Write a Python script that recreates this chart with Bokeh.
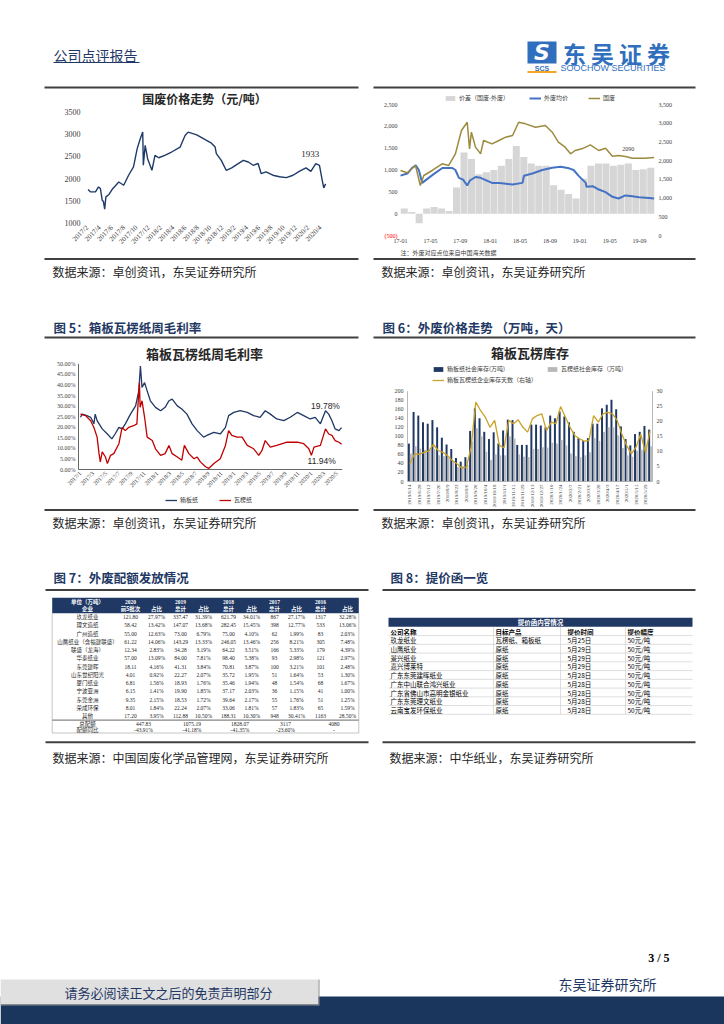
import math
from bokeh.plotting import figure
from bokeh.models import Range1d, Legend, LegendItem
from bokeh.embed import file_html
from bokeh.resources import INLINE
from bokeh.core.properties import value

CJK = "Noto Sans CJK SC"
SERIF = "Liberation Serif"
SANS = "Liberation Sans"
NAVY = "#1f3864"
DARK = "#262626"
AXC = "#404040"

# ---------------- Chart 1: 国废价格走势（元/吨）  (month index, 0 = 2017/1) ----------------
guofei_month = [1.1, 1.5, 2.3, 2.8, 3.1, 3.4, 3.6, 3.8, 4.0, 4.5, 5.0, 6.1, 6.9, 7.7, 8.5,
                9.1, 9.6, 10.0, 10.1, 10.4, 10.8, 11.5, 12.0, 12.6, 13.6, 14.7, 16.1, 16.9,
                17.4, 18.8, 20.4, 21.2, 21.8, 22.0, 22.8, 23.6, 24.5, 25.3, 26.4, 27.2, 28.0,
                28.8, 29.3, 30.1, 31.2, 32.3, 33.4, 34.5, 35.5, 36.6, 37.4, 38.2, 38.8, 39.2,
                39.5, 39.8]
guofei_price = [1752, 1698, 1698, 1811, 1775, 1511, 1480, 1309, 1586, 1640, 1752, 1923, 1849,
                2075, 2262, 2676, 2901, 3050, 2300, 2750, 2450, 2187, 2525, 2470, 2525, 2600,
                2712, 2975, 3050, 2987, 2862, 2800, 2712, 2563, 2412, 2187, 2240, 2315, 2412,
                2375, 2300, 2340, 2113, 2150, 2075, 2040, 2020, 2075, 2164, 2240, 2164, 2338,
                2300, 2000, 1790, 1880]
guofei_ticks = [1, 3, 5, 7, 9, 11, 13, 15, 17, 19, 21, 23, 25, 27, 29, 31, 33, 35, 37, 39]
guofei_tick_labels = ["2017/2", "2017/4", "2017/6", "2017/8", "2017/10", "2017/12",
                      "2018/2", "2018/4", "2018/6", "2018/8", "2018/10", "2018/12",
                      "2019/2", "2019/4", "2019/6", "2019/8", "2019/10", "2019/12",
                      "2020/2", "2020/4"]
guofei_y_ticks = [1000, 1500, 2000, 2500, 3000, 3500]
guofei_y_labels = ["1000", "1500", "2000", "2500", "3000", "3500"]

# ---------------- Chart 2: 价差 / 外废均价 / 国废 (month index, 0 = 2017-01) ----------------
spread_month = list(range(34))
spread_value = [120, 40, -220, 120, 150, 120, 60, 600, 1400, 1250, 900, 950, 1000, 1100,
                1250, 1550, 1300, 1150, 1100, 1100, 650, 550, 450, 350, 800, 1100, 1150,
                1150, 1100, 1120, 1150, 1000, 1020, 1050]
waifei_month = [0, 0.92, 1.53, 2.04, 2.45, 2.91, 3.47, 4.39, 5.61, 6.94, 7.35, 7.82, 8.37,
                8.93, 9.29, 10.04, 10.72, 12.25, 13.27, 15.0, 16.33, 16.53, 17.66, 18.98,
                20.31, 21.43, 22.56, 23.17, 23.88, 24.8, 24.9, 25.72, 26.54, 27.45, 28.37,
                29.19, 30.11, 31.03, 31.94, 33.27, 33.95]
waifei_price = [872, 918, 1045, 1107, 1000, 705, 780, 900, 1046, 1046, 1000, 818, 780, 645,
                760, 840, 820, 705, 700, 670, 705, 869, 920, 1000, 1053, 1076, 1038, 1000,
                860, 705, 614, 629, 553, 492, 386, 348, 417, 400, 377, 360, 348]
guofei2_month = [0, 0.9, 2.01, 2.65, 3.12, 4.24, 5.58, 6.43, 7.35, 8.16, 8.93, 9.24, 9.49,
                 10.04, 10.72, 11.12, 12.25, 13.17, 14.08, 15.0, 15.82, 16.74, 18.06, 19.39,
                 20.31, 21.13, 22.04, 22.76, 23.37, 24.29, 25.41, 26.54, 27.45, 28.37, 29.19,
                 30.11, 31.03, 32.76, 33.95]
guofei2_price = [1737, 1675, 1870, 1336, 1603, 1737, 1915, 1870, 2182, 2805, 3027, 2315, 2760,
                 2360, 2182, 2538, 2449, 2538, 2627, 2672, 3027, 2983, 2894, 2939, 2760, 2493,
                 2360, 2182, 2271, 2315, 2423, 2271, 2333, 2119, 2137, 2110, 2066, 2066, 2084]
chart2_ticks = [0, 4, 8, 12, 16, 20, 24, 28, 32]
chart2_tick_labels = ["17-01", "17-05", "17-09", "18-01", "18-05", "18-09", "19-01", "19-05", "19-09"]
chart2_left_ticks = [-500, 0, 500, 1000, 1500, 2000, 2500]
chart2_left_labels = ["(500)", "0", "500", "1,000", "1,500", "2,000", "2,500"]
chart2_right_ticks = [0, 500, 1000, 1500, 2000, 2500, 3000, 3500]
chart2_right_labels = ["0", "500", "1,000", "1,500", "2,000", "2,500", "3,000", "3,500"]

# ---------------- Chart 3: 箱板瓦楞纸周毛利率 (month index, 0 = 2017/1) ----------------
xiangban_month = [0, 0.3, 1.0, 1.6, 2.1, 2.3, 2.6, 3.4, 4.2, 4.9, 5.4, 6.0, 6.5, 7.0, 7.8, 8.6,
                  9.1, 9.35, 9.6, 10.0, 10.4, 10.9, 11.7, 12.5, 13.2, 13.8, 14.3, 15.1, 15.8,
                  16.6, 17.4, 18.2, 19.2, 19.7, 20.8, 21.8, 22.6, 23.1, 23.9, 24.9, 26.0, 27.0,
                  28.0, 28.8, 29.6, 30.6, 31.7, 32.7, 33.8, 34.8, 35.8, 36.6, 37.4, 38.2, 38.7,
                  39.2, 39.7, 40.3, 40.7]
xiangban_margin = [24.7, 26.2, 25.5, 24.7, 21.6, 26.2, 23.1, 19.2, 16.8, 14.5, 16.8, 19.9, 19.2,
                   21.6, 26.2, 30.1, 37.2, 48.9, 38.8, 41.1, 37.2, 32.5, 29.4, 27.8, 29.4, 32.5,
                   33.3, 30.1, 28.6, 26.2, 21.6, 18.4, 15.3, 16.1, 17.6, 16.8, 19.9, 25.5, 27.0,
                   27.8, 27.0, 25.5, 24.7, 27.8, 26.2, 23.9, 23.1, 24.7, 27.0, 25.5, 23.9, 24.7,
                   21.6, 27.8, 26.2, 23.1, 19.2, 18.4, 19.78]
waleng_month = [0, 0.8, 1.6, 2.1, 2.6, 2.9, 3.1, 3.4, 3.9, 4.2, 4.7, 5.2, 6.0, 6.5, 7.0, 7.5,
                8.3, 8.8, 9.1, 9.2, 9.3, 9.6, 10.0, 10.4, 11.2, 11.7, 12.5, 13.2, 13.8, 14.3,
                15.1, 15.8, 16.2, 16.9, 17.7, 18.2, 18.7, 19.5, 20.0, 20.8, 21.8, 22.6, 23.1,
                23.6, 24.4, 25.2, 26.0, 27.0, 27.8, 28.3, 28.8, 29.6, 30.6, 32.2, 33.8, 34.8,
                35.6, 36.0, 36.4, 37.4, 38.2, 38.7, 39.2, 39.7, 40.3, 40.7]
waleng_margin = [26.2, 25.5, 23.1, 19.9, 15.3, 7.5, 3.6, 8.3, 5.9, 2.8, 6.7, 7.5, 12.2, 19.9,
                 18.4, 19.9, 20.7, 21.6, 37.2, 41.1, 29.4, 32.5, 24.7, 15.3, 13.7, 9.8, 6.7,
                 7.5, 11.4, 7.5, 5.9, 4.4, 11.4, 7.5, 5.1, 5.9, 3.6, 1.3, 0.5, 2.8, 5.1, 11.4,
                 18.4, 16.1, 15.3, 15.3, 11.4, 9.8, 6.7, 9.0, 13.7, 10.6, 11.4, 12.9, 12.9,
                 12.2, 9.8, 6.7, 10.6, 11.4, 19.2, 16.8, 16.1, 13.7, 12.9, 11.94]
margin_x_ticks = [0, 2, 4, 6, 8, 10, 12, 14, 16, 18, 20, 22, 24, 26, 28, 30, 32, 34, 36, 38, 40]
margin_x_labels = ["2017/1", "2017/3", "2017/5", "2017/7", "2017/9", "2017/11", "2018/1",
                   "2018/3", "2018/5", "2018/7", "2018/9", "2018/11", "2019/1", "2019/3",
                   "2019/5", "2019/7", "2019/9", "2019/11", "2020/1", "2020/3", "2020/5"]
margin_y_ticks = [0, 5, 10, 15, 20, 25, 30, 35, 40, 45, 50]
margin_y_labels = ["0.00%", "5.00%", "10.00%", "15.00%", "20.00%", "25.00%", "30.00%",
                   "35.00%", "40.00%", "45.00%", "50.00%"]

# ---------------- Chart 4: 箱板瓦楞库存 ----------------
inv_dates = ["2019/6/14", "2019/6/21", "2019/6/28", "2019/7/5", "2019/7/12", "2019/7/19",
             "2019/7/26", "2019/8/2", "2019/8/9", "2019/8/16", "2019/8/23", "2019/8/30",
             "2019/9/6", "2019/9/13", "2019/9/20", "2019/9/27", "2019/10/4", "2019/10/11",
             "2019/10/18", "2019/10/25", "2019/11/1", "2019/11/8", "2019/11/15", "2019/11/22",
             "2019/11/29", "2019/12/6", "2019/12/13", "2019/12/20", "2019/12/27", "2020/1/3",
             "2020/1/10", "2020/1/17", "2020/1/24", "2020/1/31", "2020/2/7", "2020/2/14",
             "2020/2/21", "2020/2/28", "2020/3/6", "2020/3/13", "2020/3/20", "2020/3/27",
             "2020/4/3", "2020/4/10", "2020/4/17", "2020/4/24", "2020/5/1", "2020/5/8",
             "2020/5/15", "2020/5/22", "2020/5/29", "2020/6/5"]
xiangban_inv = [84, 154, 146, 131, 128, 136, 120, 97, 82, 72, 52, 44, 54, 112, 162, 140, 110,
                94, 109, 84, 113, 137, 136, 81, 81, 81, 126, 126, 124, 120, 146, 140, 155, 144,
                131, 110, 96, 90, 96, 128, 128, 162, 170, 181, 160, 122, 94, 80, 105, 110, 123,
                115]
waleng_inv = [62, 78, 73, 70, 70, 72, 58, 56, 52, 45, 32, 34, 38, 88, 118, 100, 66, 48, 60,
              58, 58, 100, 95, 60, 55, 54, 72, 72, 76, 75, 86, 84, 92, 80, 62, 56, 54, 58, 65,
              96, 90, 110, 120, 120, 102, 74, 58, 55, 68, 70, 80, 78]
inv_days = [5.9, 9.2, 9.0, 9.7, 10.1, 12.3, 10.3, 9.7, 8.6, 7.0, 5.9, 4.5, 4.8, 11.4, 26.4,
            23.6, 21.4, 18.0, 20.3, 12.0, 11.2, 20.3, 19.2, 20.5, 18.0, 16.4, 20.8, 21.9, 22.5,
            16.9, 19.7, 19.2, 24.9, 21.4, 18.0, 15.3, 14.2, 13.4, 13.6, 21.9, 19.7, 22.5, 23.0,
            22.5, 20.3, 15.8, 12.0, 9.2, 11.4, 15.8, 9.7, 16.9]
inv_left_ticks = [0, 20, 40, 60, 80, 100, 120, 140, 160, 180, 200]
inv_left_labels = ["0", "20", "40", "60", "80", "100", "120", "140", "160", "180", "200"]
inv_right_ticks = [0, 5, 10, 15, 20, 25, 30]
inv_right_labels = ["0", "5", "10", "15", "20", "25", "30"]

# ---------------- Table 1: 外废配额发放情况 ----------------
quota_years = ["2020", "2019", "2018", "2017", "2016"]
quota_subheads = ["前5批次", "占比", "总计", "占比", "总计", "占比", "总计", "占比", "总计", "占比"]
quota_companies = ["玖龙纸业", "理文造纸", "广州造纸", "山鹰纸业（含福建联盛）", "联盛（龙海）",
                   "华泰纸业", "东莞建晖", "山东世纪阳光", "厦门纸业", "宁波亚洲", "东莞金洲",
                   "荣成环保", "其他"]
q2020 = ["121.80", "58.42", "55.00", "61.22", "12.34", "57.00", "18.11", "4.01", "6.81", "6.15", "9.35", "8.01", "17.20"]
p2020 = ["27.97%", "13.42%", "12.63%", "14.06%", "2.83%", "13.09%", "4.16%", "0.92%", "1.56%", "1.41%", "2.15%", "1.84%", "3.95%"]
q2019 = ["337.47", "147.07", "73.00", "143.29", "34.28", "84.00", "41.31", "22.27", "18.93", "19.90", "18.53", "22.24", "112.88"]
p2019 = ["31.39%", "13.68%", "6.79%", "13.33%", "3.19%", "7.81%", "3.84%", "2.07%", "1.76%", "1.85%", "1.72%", "2.07%", "10.50%"]
q2018 = ["621.79", "282.45", "75.00", "246.05", "64.22", "98.40", "70.81", "35.72", "35.46", "37.17", "39.64", "33.06", "188.31"]
p2018 = ["34.01%", "15.45%", "4.10%", "13.46%", "3.51%", "5.38%", "3.87%", "1.95%", "1.94%", "2.03%", "2.17%", "1.81%", "10.30%"]
q2017 = ["867", "398", "62", "256", "166", "93", "100", "51", "48", "36", "55", "57", "948"]
p2017 = ["27.17%", "12.77%", "1.99%", "8.21%", "5.33%", "2.98%", "3.21%", "1.64%", "1.54%", "1.15%", "1.76%", "1.83%", "30.41%"]
q2016 = ["1317", "533", "83", "305", "179", "121", "101", "53", "68", "41", "51", "65", "1163"]
p2016 = ["32.28%", "13.06%", "2.03%", "7.48%", "4.39%", "2.97%", "2.48%", "1.30%", "1.67%", "1.00%", "1.25%", "1.59%", "28.50%"]
quota_total = ["447.83", "1075.19", "1828.07", "3117", "4080"]
quota_yoy = ["-43.91%", "-41.18%", "-41.35%", "-23.60%", "-"]

# ---------------- Table 2: 提价函一览 ----------------
hike_headers = ["公司名称", "目标产品", "提价时间", "提价幅度"]
hike_company = ["玖龙纸业", "山鹰纸业", "景兴纸业", "嘉兴博莱特", "广东东莞建晖纸业",
                "广东中山联合鸿兴纸业", "广东省佛山市高明金银纸业", "广东东莞理文纸业", "云南宝发环保纸业"]
hike_product = ["瓦楞纸、箱板纸", "原纸", "原纸", "原纸", "原纸", "原纸", "原纸", "原纸", "原纸"]
hike_date = ["5月25日", "5月29日", "5月29日", "5月29日", "5月28日", "5月28日", "5月28日", "5月28日", "5月28日"]
hike_amount = ["50元/吨"] * 9

# ================= page figure (page pixel coordinates, y downwards) =================
W, H = 724, 1024
p = figure(width=W, height=H, x_range=Range1d(0, W), y_range=Range1d(H, 0),
           x_axis_location=None, y_axis_location=None, toolbar_location=None,
           output_backend="svg", min_border=0)
p.grid.visible = False
p.outline_line_color = None

# chart frames in page pixels: (left, right, top, bottom)
F1 = (83, 330, 111.7, 222.3)
F2 = (400, 654, 104, 235)
F3 = (78, 341.7, 363.3, 469)
F4 = (407, 652, 390.7, 481)

xr, yr = {}, {}


def scale(name, frame, xlim, ylim):
    L, R, T, B = frame
    if xlim is not None:
        sx = (xlim[1] - xlim[0]) / (R - L)
        xr[name] = Range1d(xlim[0] - L * sx, xlim[0] + (W - L) * sx)
    if ylim is not None:
        sy = (ylim[1] - ylim[0]) / (B - T)
        yr[name] = Range1d(ylim[0] - (H - B) * sy, ylim[0] + B * sy)


scale("c1", F1, (0.35, 40.6), (1000, 3500))
scale("c2", F2, (0, 34), (-500, 2500))
scale("c2r", F2, None, (0, 3500))
scale("c3", F3, (-0.3, 40.8), (0, 50))
scale("c4", F4, (-0.5, 51.5), (0, 200))
scale("c4r", F4, None, (0, 30))
p.extra_x_ranges = xr
p.extra_y_ranges = yr


def txt(x, y, s, size, color=DARK, font=CJK, align="left", style="normal", baseline="middle"):
    p.text(x=[x], y=[y], text=[s], text_font=value(font), text_font_size=size,
           text_color=color, text_align=align, text_baseline=baseline, text_font_style=style)


def hline(x0, x1, y, color=AXC, width=2.0):
    p.line([x0, x1], [y, y], line_color=color, line_width=width)


def vline(x, y0, y1, color=AXC, width=1.0):
    p.line([x, x], [y0, y1], line_color=color, line_width=width)


def style_legend(leg, size, spacing):
    leg.label_text_font = CJK
    leg.label_text_font_size = size
    leg.label_text_color = "#404040"
    leg.glyph_width = 12
    leg.glyph_height = 6
    leg.label_height = 8
    leg.label_standoff = 3
    leg.padding = 0
    leg.margin = 0
    leg.spacing = spacing
    leg.border_line_color = None
    leg.background_fill_alpha = 0


# ================= header =================
txt(53, 54, "公司点评报告", "14px", NAVY)
hline(53, 139, 62, NAVY, 1)
p.quad(left=527, right=556, top=41, bottom=63, fill_color="#2f6fbd", line_color=None)
txt(541.5, 52, "S", "22px", "white", "DejaVu Sans", "center", "bold italic")
txt(541.5, 67.5, "SCS", "7px", "#2f6fbd", SANS, "center", "bold")
hline(527, 556, 71.5, "#f5a623", 2)
for i, ch in enumerate("东吴证券"):
    txt(574 + 28 * i, 52, ch, "23px", "#2f6fbd", CJK, "center", "bold")
txt(560, 67.5, "SOOCHOW SECURITIES", "9px", "#2f6fbd", SANS)
hline(44, 358, 87)
hline(373, 695, 87)

# ================= chart 1 =================
txt(204, 98, "国废价格走势（元/吨）", "12px", DARK, CJK, "center", "bold")
p.line(guofei_month, guofei_price, line_color="#1f3a68", line_width=1.4,
       x_range_name="c1", y_range_name="c1")
p.text(x=[80] * len(guofei_y_ticks), y=guofei_y_ticks, text=guofei_y_labels, y_range_name="c1",
       text_font=value(SERIF), text_font_size="8px", text_color=AXC,
       text_align="right", text_baseline="middle")
p.text(x=guofei_ticks, y=[226] * len(guofei_ticks), text=guofei_tick_labels, x_range_name="c1",
       text_font=value(SERIF), text_font_size="7px", text_color=AXC, angle=math.pi / 4,
       text_align="right", text_baseline="middle")
p.text(x=[37.3], y=[2545], text=["1933"], x_range_name="c1", y_range_name="c1",
       text_font=value(SERIF), text_font_size="9px", text_color=DARK,
       text_align="center", text_baseline="middle")

# ================= chart 2 =================
spread_r = p.vbar(x=[m + 0.5 for m in spread_month], top=spread_value, width=0.94,
                  fill_color="#d6d6d6", line_color=None, x_range_name="c2", y_range_name="c2")
waifei_r = p.line(waifei_month, waifei_price, line_color="#4472c4", line_width=2,
                  x_range_name="c2", y_range_name="c2")
guofei_r = p.line(guofei2_month, guofei2_price, line_color="#9c8a3e", line_width=1.5,
                  x_range_name="c2", y_range_name="c2r")
p.text(x=[397] * 6, y=chart2_left_ticks[1:], text=chart2_left_labels[1:], y_range_name="c2",
       text_font=value(SERIF), text_font_size="6px", text_color=AXC,
       text_align="right", text_baseline="middle")
p.text(x=[397], y=chart2_left_ticks[:1], text=chart2_left_labels[:1], y_range_name="c2",
       text_font=value(SERIF), text_font_size="6px", text_color="#ff0000",
       text_align="right", text_baseline="middle")
p.text(x=[658] * len(chart2_right_ticks), y=chart2_right_ticks, text=chart2_right_labels,
       y_range_name="c2r", text_font=value(SERIF), text_font_size="6px", text_color=AXC,
       text_align="left", text_baseline="middle")
p.text(x=chart2_ticks, y=[240] * len(chart2_ticks), text=chart2_tick_labels, x_range_name="c2",
       text_font=value(SERIF), text_font_size="6px", text_color=AXC,
       text_align="center", text_baseline="middle")
p.text(x=[30.5], y=[2300], text=["2090"], x_range_name="c2", y_range_name="c2r",
       text_font=value(SERIF), text_font_size="6px", text_color=AXC,
       text_align="center", text_baseline="middle")
txt(400, 252, "注：外废对应点位来自中国海关数据", "6px", "#404040")
leg2 = Legend(items=[LegendItem(label="价差（国废-外废）", renderers=[spread_r]),
                     LegendItem(label="外废均价", renderers=[waifei_r]),
                     LegendItem(label="国废", renderers=[guofei_r])],
              orientation="horizontal", location=(444, H - 102))
style_legend(leg2, "6px", 20)
p.add_layout(leg2)

# ================= sources / titles row 1->2 =================
hline(44, 358, 258.5)
hline(373, 695, 258.5)
txt(52, 270.5, "数据来源：卓创资讯，东吴证券研究所", "12px")
txt(381, 270.5, "数据来源：卓创资讯，东吴证券研究所", "12px")
txt(53, 327, "图 5：箱板瓦楞纸周毛利率", "12.5px", NAVY, style="bold")
txt(382, 327, "图 6：外废价格走势 （万吨，天）", "12.5px", NAVY, style="bold")
hline(44, 358, 337)
hline(373, 695, 337)

# ================= chart 3 =================
txt(204, 353, "箱板瓦楞纸周毛利率", "13px", DARK, CJK, "center", "bold")
vline(F3[0], F3[2], F3[3], AXC, 0.8)
hline(F3[0], F3[1], F3[3], AXC, 0.8)
xb_r = p.line(xiangban_month, xiangban_margin, line_color="#1f3864", line_width=1.3,
              x_range_name="c3", y_range_name="c3")
wl_r = p.line(waleng_month, waleng_margin, line_color="#c00000", line_width=1.3,
              x_range_name="c3", y_range_name="c3")
p.text(x=[75] * len(margin_y_ticks), y=margin_y_ticks, text=margin_y_labels, y_range_name="c3",
       text_font=value(SERIF), text_font_size="6px", text_color=AXC,
       text_align="right", text_baseline="middle")
p.text(x=margin_x_ticks, y=[472] * len(margin_x_ticks), text=margin_x_labels, x_range_name="c3",
       text_font=value(SERIF), text_font_size="6px", text_color=AXC, angle=math.pi / 4,
       text_align="right", text_baseline="middle")
p.text(x=[38.2, 37.6], y=[30.2, 4.2], text=["19.78%", "11.94%"], x_range_name="c3",
       y_range_name="c3", text_font=value(SANS), text_font_size="8.5px", text_color=DARK,
       text_align="center", text_baseline="middle")
leg3 = Legend(items=[LegendItem(label="箱板纸", renderers=[xb_r]),
                     LegendItem(label="瓦楞纸", renderers=[wl_r])],
              orientation="horizontal", location=(165, H - 504))
style_legend(leg3, "6px", 19)
p.add_layout(leg3)

# ================= chart 4 =================
txt(529.5, 352.3, "箱板瓦楞库存", "13px", DARK, CJK, "center", "bold")
inv_idx = list(range(len(inv_dates)))
nb_r = p.vbar(x=[k - 0.21 for k in inv_idx], top=xiangban_inv, width=0.42, fill_color=NAVY,
              line_color=None, x_range_name="c4", y_range_name="c4")
gb_r = p.vbar(x=[k + 0.21 for k in inv_idx], top=waleng_inv, width=0.42, fill_color="#b8b8b8",
              line_color=None, x_range_name="c4", y_range_name="c4")
dl_r = p.line(inv_idx, inv_days, line_color="#c9a227", line_width=1.3,
              x_range_name="c4", y_range_name="c4r")
vline(F4[0], F4[2], F4[3], "#a6a6a6", 0.8)
vline(F4[1], F4[2], F4[3], "#a6a6a6", 0.8)
hline(F4[0], F4[1], F4[3], "#a6a6a6", 0.8)
p.text(x=[403] * len(inv_left_ticks), y=inv_left_ticks, text=inv_left_labels, y_range_name="c4",
       text_font=value(SERIF), text_font_size="6px", text_color=AXC,
       text_align="right", text_baseline="middle")
p.text(x=[656] * len(inv_right_ticks), y=inv_right_ticks, text=inv_right_labels,
       y_range_name="c4r", text_font=value(SERIF), text_font_size="6px", text_color=AXC,
       text_align="left", text_baseline="middle")
p.text(x=inv_idx[::2], y=[484] * len(inv_idx[::2]), text=inv_dates[::2], x_range_name="c4",
       text_font=value(SERIF), text_font_size="5px", text_color=AXC, angle=math.pi / 2,
       text_align="right", text_baseline="middle")
leg4a = Legend(items=[LegendItem(label="箱板纸社会库存(万吨)", renderers=[nb_r]),
                      LegendItem(label="瓦楞纸社会库存（万吨）", renderers=[gb_r])],
               orientation="horizontal", location=(432, H - 373))
style_legend(leg4a, "6px", 41)
p.add_layout(leg4a)
leg4b = Legend(items=[LegendItem(label="箱板瓦楞纸企业库存天数（右轴）", renderers=[dl_r])],
               orientation="horizontal", location=(432, H - 384))
style_legend(leg4b, "6px", 10)
p.add_layout(leg4b)

# ================= sources / titles row 2->3 =================
hline(44, 358, 509.5)
hline(373, 695, 509.5)
txt(52, 521.5, "数据来源：卓创资讯，东吴证券研究所", "12px")
txt(381, 521.5, "数据来源：卓创资讯，东吴证券研究所", "12px")
txt(53, 577, "图 7：外废配额发放情况", "12.5px", NAVY, style="bold")
txt(390, 577, "图 8：提价函一览", "12.5px", NAVY, style="bold")
hline(45, 368, 589.5)
hline(382, 695, 589.5)

# ================= table 1 =================
p.quad(left=51.7, right=358.3, top=597.3, bottom=612.7, fill_color=NAVY, line_color=None)
col_x = [130, 156, 180, 203, 228, 251, 274, 296, 320, 347]
name_x = 87
txt(name_x, 601, "单位（万吨）", "5.5px", "white", CJK, "center", "bold")
for j, yv in enumerate(quota_years):
    txt(col_x[2 * j], 601, yv, "5.5px", "white", SERIF, "center", "bold")
txt(name_x, 608.5, "企业", "5.5px", "white", CJK, "center", "bold")
for j, s in enumerate(quota_subheads):
    txt(col_x[j], 608.5, s, "5.5px", "white", CJK, "center", "bold")
n1 = len(quota_companies)
row_y = [616.7 + 8.25 * i for i in range(n1)]
p.text(x=[name_x] * n1, y=row_y, text=quota_companies, text_font=value(CJK),
       text_font_size="5.5px", text_color=DARK, text_align="center", text_baseline="middle")
for j, colvals in enumerate([q2020, p2020, q2019, p2019, q2018, p2018, q2017, p2017, q2016, p2016]):
    p.text(x=[col_x[j]] * n1, y=row_y, text=colvals, text_font=value(SERIF),
           text_font_size="5.5px", text_color=DARK, text_align="center", text_baseline="middle")
hline(51.7, 358.3, 719.6, "#404040", 0.8)
vline(51.7, 612.7, 732.5, "#a0a0a0", 0.6)
vline(358.3, 612.7, 732.5, "#a0a0a0", 0.6)
hline(51.7, 358.3, 732.5, "#a0a0a0", 0.6)
pair_x = [(col_x[2 * j] + col_x[2 * j + 1]) / 2 for j in range(5)]
txt(name_x, 723.6, "总配额", "5.5px", DARK, CJK, "center")
txt(name_x, 729.2, "配额同比", "5.5px", DARK, CJK, "center")
p.text(x=pair_x, y=[723.6] * 5, text=quota_total, text_font=value(SERIF),
       text_font_size="5.5px", text_color=DARK, text_align="center", text_baseline="middle")
p.text(x=pair_x, y=[729.2] * 5, text=quota_yoy, text_font=value(SERIF),
       text_font_size="5.5px", text_color=DARK, text_align="center", text_baseline="middle")

# ================= table 2 =================
p.quad(left=388, right=692, top=617.3, bottom=626.3, fill_color=NAVY, line_color=None)
txt(540, 621.9, "提价函内容情况", "6.5px", "white", CJK, "center", "bold")
hx = [390, 495, 567, 627]
for j, hh in enumerate(hike_headers):
    txt(hx[j], 631, hh, "6.5px", "#000000", CJK, "left", "bold")
n2 = len(hike_company)
ry = [639.5 + 8.75 * i for i in range(n2)]
for i in range(n2 + 1):
    hline(388, 692, 635.1 + 8.75 * i, "#d0d0d0", 0.7)
for xv in [493, 560, 625]:
    vline(xv, 626.3, 635.1 + 8.75 * n2, "#d0d0d0", 0.7)
for j, colvals in enumerate([hike_company, hike_product, hike_date, hike_amount]):
    p.text(x=[hx[j]] * n2, y=ry, text=colvals, text_font=value(CJK), text_font_size="6.5px",
           text_color="#000000", text_align="left", text_baseline="middle")

# ================= sources + footer =================
hline(45, 368, 741.7)
hline(382, 695, 741.7)
txt(52, 756.5, "数据来源：中国固废化学品管理网，东吴证券研究所", "12px")
txt(389, 756.5, "数据来源：中华纸业，东吴证券研究所", "12px")
txt(669, 957, "3 / 5", "12px", "#000000", SERIF, "right", "bold")
txt(656, 983.5, "东吴证券研究所", "14px", NAVY, CJK, "right")
p.quad(left=0, right=724, top=996, bottom=1024, fill_color="#1b365d", line_color=None)
p.quad(left=0, right=318, top=979, bottom=1004, fill_color="#e0e0e0", line_color=None)
vline(318.5, 979, 1005, "#8c8c8c", 1)
hline(0, 318.5, 1004.5, "#8c8c8c", 1)
txt(168, 991.5, "请务必阅读正文之后的免责声明部分", "13px", NAVY, CJK, "center")

open("out.html", "w", encoding="utf-8").write(file_html(p, INLINE, title="公司点评报告"))
